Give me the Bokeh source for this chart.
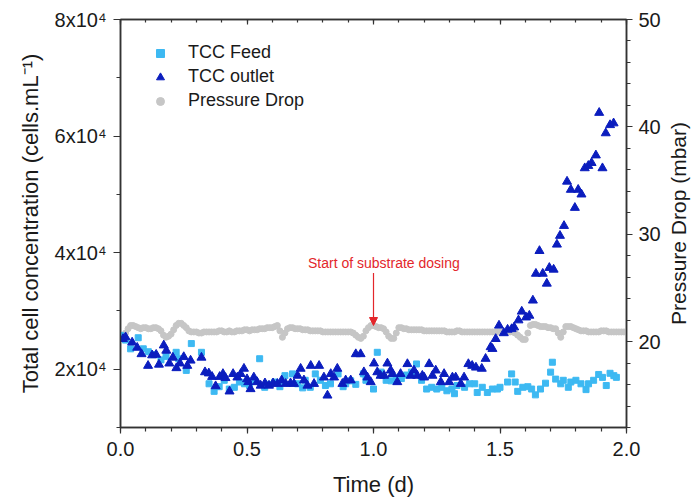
import numpy as np
from bokeh.plotting import figure
from bokeh.models import (Range1d, LinearAxis, SingleIntervalTicker, Legend, LegendItem,
                          Label, Arrow, NormalHead, ColumnDataSource)
from bokeh.embed import file_html
from bokeh.resources import INLINE

# ---------------- data ----------------
feed_t = [0.00, 0.02, 0.04, 0.07, 0.09, 0.11, 0.13, 0.16, 0.18, 0.22, 0.23, 0.26, 0.28, 0.32,
          0.35, 0.37, 0.39, 0.41, 0.43, 0.45, 0.47, 0.49, 0.51, 0.53, 0.55, 0.57, 0.59, 0.61,
          0.63, 0.65, 0.68, 0.70, 0.72, 0.73, 0.75, 0.77, 0.79, 0.81, 0.83, 0.86, 0.88, 0.89,
          0.91, 0.93, 0.96, 0.97, 1.00, 1.015, 1.03, 1.05, 1.07, 1.09, 1.11, 1.13, 1.15, 1.17,
          1.19, 1.21, 1.23, 1.25, 1.27, 1.29, 1.31, 1.32, 1.33, 1.36, 1.38, 1.40, 1.41, 1.43,
          1.45, 1.47, 1.49, 1.50, 1.53, 1.546, 1.56, 1.57, 1.59, 1.61, 1.625, 1.64, 1.66, 1.68,
          1.70, 1.707, 1.72, 1.74, 1.75, 1.77, 1.78, 1.80, 1.82, 1.84, 1.85, 1.87, 1.89, 1.905,
          1.92, 1.935, 1.95, 1.96]
feed_tcc_e4 = [2.58, 2.50, 2.35, 2.54, 2.35, 2.30, 2.25, 2.16, 2.22, 2.29, 2.18, 1.98, 2.44, 2.29,
               1.75, 1.62, 1.70, 1.81, 1.66, 1.69, 1.78, 1.75, 1.72, 1.80, 2.18, 1.69, 1.74, 1.78,
               1.70, 1.89, 1.92, 1.75, 1.68, 1.81, 1.69, 1.92, 1.81, 1.72, 1.75, 1.92, 1.70, 1.75,
               1.80, 1.74, 1.92, 1.81, 1.66, 2.29, 1.95, 1.81, 1.80, 1.86, 1.84, 1.90, 1.95, 2.09,
               1.81, 1.66, 1.69, 1.66, 1.69, 1.63, 1.66, 1.58, 1.72, 1.69, 1.75, 1.75, 1.60, 1.69,
               1.60, 1.66, 1.66, 1.69, 1.78, 1.92, 1.78, 1.62, 1.69, 1.70, 1.66, 1.56, 1.66, 1.76,
               1.95, 2.12, 1.83, 1.75, 1.81, 1.69, 1.78, 1.81, 1.75, 1.65, 1.75, 1.81, 1.91, 1.86,
               1.72, 1.93, 1.89, 1.86]

outlet_t = [0.01, 0.02, 0.046, 0.066, 0.083, 0.109, 0.125, 0.141, 0.152, 0.171, 0.181, 0.193,
            0.207, 0.221, 0.235, 0.25, 0.264, 0.277, 0.32, 0.334, 0.349, 0.362, 0.376, 0.392,
            0.405, 0.415, 0.431, 0.445, 0.462, 0.475, 0.488, 0.50, 0.505, 0.514, 0.527, 0.54,
            0.554, 0.571, 0.587, 0.603, 0.62, 0.637, 0.653, 0.672, 0.686, 0.70, 0.712, 0.725,
            0.739, 0.752, 0.765, 0.785, 0.804, 0.818, 0.831, 0.844, 0.857, 0.877, 0.89, 0.91,
            0.93, 0.949, 0.962, 0.976, 0.989, 1.002, 1.015, 1.028, 1.042, 1.055, 1.068, 1.075,
            1.094, 1.107, 1.134, 1.147, 1.16, 1.173, 1.193, 1.20, 1.22, 1.233, 1.246, 1.266,
            1.279, 1.299, 1.312, 1.325, 1.345, 1.358, 1.375, 1.39, 1.405, 1.428, 1.443, 1.463,
            1.47, 1.483, 1.496, 1.515, 1.53, 1.546, 1.556, 1.573, 1.586, 1.603, 1.616, 1.63,
            1.642, 1.656, 1.669, 1.685, 1.695, 1.712, 1.725, 1.737, 1.753, 1.765, 1.78, 1.796,
            1.809, 1.822, 1.835, 1.849, 1.862, 1.879, 1.892, 1.905, 1.918, 1.935, 1.949]
outlet_tcc_e4 = [2.52, 2.55, 2.46, 2.37, 2.26, 2.06, 2.24, 2.25, 2.08, 2.41, 2.32, 2.10,
                 2.20, 2.02, 2.10, 2.21, 2.06, 2.15, 2.20, 1.95, 1.93, 1.87, 1.71, 1.87,
                 1.92, 1.85, 1.62, 1.92, 1.86, 1.92, 2.01, 1.83, 1.78, 1.66, 1.86, 1.78,
                 1.72, 1.76, 1.72, 1.76, 1.75, 1.81, 1.75, 1.76, 1.75, 1.89, 2.01, 1.81,
                 1.72, 2.06, 1.75, 2.06, 1.86, 1.55, 1.92, 1.86, 2.01, 1.75, 1.81, 1.81,
                 2.26, 2.26, 1.95, 1.86, 1.78, 2.10, 1.95, 1.89, 1.89, 2.10, 1.98, 1.92,
                 1.78, 1.92, 2.09, 1.89, 1.98, 1.89, 1.89, 1.86, 2.09, 1.89, 1.98, 1.78,
                 1.92, 1.78, 1.86, 1.86, 1.75, 1.86, 2.09, 2.06, 2.03, 2.01, 2.18, 2.38,
                 2.35, 2.52, 2.75, 2.62, 2.68, 2.69, 2.72, 2.84, 2.99, 2.89, 2.92, 3.18,
                 3.64, 4.03, 3.64, 3.47, 3.74, 3.71, 4.14, 4.29, 4.46, 5.22, 5.08, 4.77,
                 5.08, 5.00, 5.45, 5.49, 5.54, 5.67, 6.40, 5.45, 6.05, 6.19, 6.22]

# pressure drop logged every 0.01 d (t = 0.00 ... 1.99)
pd_t = [round(0.01 * i, 2) for i in range(200)]
pd_mbar = [
    20.3, 20.5, 20.8, 21.2, 21.5, 21.5, 21.4, 21.3, 21.2, 21.3,   # 0.00-0.09
    21.3, 21.2, 21.2, 21.3, 21.3, 21.2, 21.0, 20.6, 20.4, 20.5,   # 0.10-0.19
    20.7, 21.1, 21.5, 21.7, 21.7, 21.5, 21.3, 21.0, 20.9, 20.9,   # 0.20-0.29
    20.9, 20.8, 20.8, 20.9, 20.9, 20.9, 20.9, 20.9, 20.9, 21.0,   # 0.30-0.39
    21.0, 20.9, 20.9, 21.0, 20.9, 20.9, 21.0, 21.0, 21.0, 21.1,   # 0.40-0.49
    21.1, 21.0, 21.1, 21.1, 21.1, 21.2, 21.2, 21.2, 21.3, 21.3,   # 0.50-0.59
    21.3, 21.4, 21.5, 21.0, 20.4, 20.8, 21.2, 21.3, 21.3, 21.2,   # 0.60-0.69
    21.2, 21.2, 21.1, 21.1, 21.1, 21.0, 21.0, 21.0, 21.0, 21.0,   # 0.70-0.79
    20.9, 20.9, 20.9, 20.9, 20.9, 20.9, 20.9, 20.9, 20.9, 20.9,   # 0.80-0.89
    20.9, 20.9, 20.8, 20.6, 20.4, 20.3, 20.5, 21.0, 21.3, 21.5,   # 0.90-0.99
    21.5, 21.4, 21.3, 21.3, 21.2, 20.9, 20.5, 20.3, 20.3, 20.8,   # 1.00-1.09
    21.3, 21.3, 21.2, 21.2, 21.1, 21.1, 21.1, 21.1, 21.1, 21.1,   # 1.10-1.19
    21.0, 21.0, 21.0, 21.0, 21.0, 21.0, 21.0, 21.0, 21.0, 20.9,   # 1.20-1.29
    20.9, 20.9, 20.9, 21.0, 21.0, 20.9, 20.9, 20.9, 20.9, 20.9,   # 1.30-1.39
    20.9, 20.9, 20.9, 20.9, 20.9, 20.9, 20.9, 20.9, 20.9, 20.9,   # 1.40-1.49
    20.9, 20.9, 20.9, 20.9, 20.9, 20.9, 20.8, 20.6, 20.4, 20.2,   # 1.50-1.59
    20.2, 20.8, 21.5, 21.6, 21.6, 21.5, 21.4, 21.4, 21.4, 21.3,   # 1.60-1.69
    21.3, 21.2, 21.2, 20.8, 20.4, 20.9, 21.4, 21.4, 21.4, 21.3,   # 1.70-1.79
    21.2, 21.1, 21.0, 21.0, 21.0, 20.9, 20.9, 20.9, 20.9, 20.9,   # 1.80-1.89
    21.0, 21.0, 21.0, 20.9, 20.9, 20.9, 20.9, 20.9, 20.9, 20.9,   # 1.90-1.99
]

x_ticks = [0.0, 0.5, 1.0, 1.5, 2.0]
x_tick_labels = ["0.0", "0.5", "1.0", "1.5", "2.0"]
left_ticks = [20000, 40000, 60000, 80000]
left_tick_labels = ["2x10\u2074", "4x10\u2074", "6x10\u2074", "8x10\u2074"]
right_ticks = [20, 30, 40, 50]
right_tick_labels = ["20", "30", "40", "50"]

series_names = ["TCC Feed", "TCC outlet", "Pressure Drop"]
annotation_text = "Start of substrate dosing"
dosing_start = 1.0

# ---------------- styling ----------------
FONT = "Liberation Sans"
AX = "#333333"
FEED_C = "#3DB9F2"
OUT_C = "#0B1DBE"
PD_C = "#C6C6C6"
RED = "#E3262B"

p = figure(width=691, height=499, output_backend="svg", toolbar_location=None,
           x_range=Range1d(0, 2.0), y_range=Range1d(1e4, 8e4),
           min_border_left=120, min_border_right=65, min_border_top=19, min_border_bottom=72)
p.extra_y_ranges = {"pd": Range1d(12, 50)}
p.xgrid.visible = False
p.ygrid.visible = False
p.outline_line_color = AX
p.outline_line_width = 1.5
p.background_fill_color = "white"
p.border_fill_color = "white"

pd_src = ColumnDataSource(dict(t=pd_t, v=pd_mbar))
feed_src = ColumnDataSource(dict(t=feed_t, v=np.array(feed_tcc_e4) * 1e4))
out_src = ColumnDataSource(dict(t=outlet_t, v=np.array(outlet_tcc_e4) * 1e4))

r_pd = p.scatter("t", "v", source=pd_src, marker="circle", size=6, fill_color=PD_C,
                 line_color=PD_C, y_range_name="pd")
r_feed = p.scatter("t", "v", source=feed_src, marker="square", size=6, fill_color=FEED_C,
                   line_color=FEED_C)
r_out = p.scatter("t", "v", source=out_src, marker="triangle", size=9, fill_color=OUT_C,
                  line_color=OUT_C)

def style_axis(ax, label_size="20px"):
    ax.axis_line_color = AX
    ax.axis_line_width = 1.5
    ax.major_tick_line_color = AX
    ax.minor_tick_line_color = AX
    ax.major_tick_line_width = 1.2
    ax.minor_tick_line_width = 1.2
    ax.major_label_text_font = FONT
    ax.major_label_text_font_size = label_size
    ax.major_label_text_color = "#1a1a1a"
    ax.axis_label_text_font = FONT
    ax.axis_label_text_font_size = "22px"
    ax.axis_label_text_font_style = "normal"
    ax.axis_label_text_color = "#1a1a1a"

# bottom axis (title placed as a label in the bottom panel)
xa = p.xaxis[0]
xa.ticker = SingleIntervalTicker(interval=0.5, num_minor_ticks=5)
xa.major_label_overrides = {t: l for t, l in zip(x_ticks, x_tick_labels)}
style_axis(xa)
xa.major_tick_in = 0
xa.major_tick_out = 6
xa.minor_tick_in = 0
xa.minor_tick_out = 4
xa.major_label_standoff = 8

x_title = Label(x=1.0, y=150, text="Time (d)", text_align="center", text_baseline="middle",
                text_font=FONT, text_font_size="22px", text_color="#1a1a1a")
p.add_layout(x_title, "below")

# left axis
ya = p.yaxis[0]
ya.ticker = SingleIntervalTicker(interval=20000, num_minor_ticks=2)
ya.major_label_overrides = {t: l for t, l in zip(left_ticks, left_tick_labels)}
ya.axis_label = "Total cell concentration (cells.mL\u207b\u00b9)"
style_axis(ya)
ya.major_tick_in = 0
ya.major_tick_out = 7
ya.minor_tick_in = 0
ya.minor_tick_out = 4
ya.major_label_standoff = 7
ya.axis_label_standoff = 9

# right axis (ticks + numbers; its title is a separate label in the right panel)
ra = LinearAxis(y_range_name="pd", ticker=SingleIntervalTicker(interval=10, num_minor_ticks=5))
ra.major_label_overrides = {t: l for t, l in zip(right_ticks, right_tick_labels)}
style_axis(ra)
ra.major_tick_in = 0
ra.major_tick_out = 6
ra.minor_tick_in = 0
ra.minor_tick_out = 4
ra.major_label_standoff = 6
p.add_layout(ra, "right")

right_title = Label(x=2.205, y=31, y_range_name="pd", text="Pressure Drop (mbar)",
                    angle=np.pi / 2, text_align="center", text_baseline="middle",
                    text_font=FONT, text_font_size="21px", text_color="#1a1a1a")
p.add_layout(right_title, "right")

# top axis (ticks only)
ta = LinearAxis(ticker=SingleIntervalTicker(interval=0.5, num_minor_ticks=5))
style_axis(ta, label_size="0px")
ta.major_label_overrides = {t: "" for t in x_ticks}
ta.major_tick_in = 5
ta.major_tick_out = 0
ta.minor_tick_in = 3
ta.minor_tick_out = 0
ta.major_label_standoff = 0
p.add_layout(ta, "above")

# annotation
p.add_layout(Label(x=1.041, y=3.83e4, text=annotation_text, text_align="center",
                   text_baseline="middle", text_font=FONT, text_font_size="14px",
                   text_color=RED))
p.add_layout(Arrow(end=NormalHead(size=8, fill_color=RED, line_color=RED, line_width=1),
                   x_start=dosing_start, y_start=3.65e4, x_end=dosing_start, y_end=2.75e4,
                   line_color=RED, line_width=1.2))

legend = Legend(items=[LegendItem(label=series_names[0], renderers=[r_feed]),
                       LegendItem(label=series_names[1], renderers=[r_out]),
                       LegendItem(label=series_names[2], renderers=[r_pd])],
                location=(30, 316), border_line_color=None, background_fill_alpha=0,
                label_text_font=FONT, label_text_font_size="18px", label_text_color="#1a1a1a",
                label_standoff=18, glyph_width=20, glyph_height=20, label_height=20,
                padding=0, margin=0, spacing=3)
p.add_layout(legend)

open("out.html", "w").write(file_html(p, INLINE))
